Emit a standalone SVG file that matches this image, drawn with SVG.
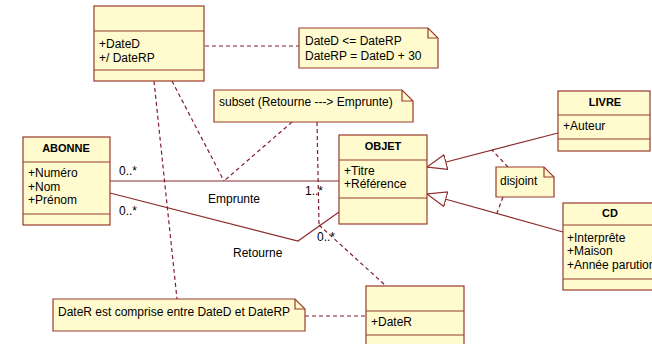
<svg xmlns="http://www.w3.org/2000/svg" width="652" height="344" viewBox="0 0 652 344">
<style>
.box{fill:#FFFBCE;stroke:#993B2E;stroke-width:1.2}
.sep{stroke:#993B2E;stroke-width:1.2;fill:none}
.note{fill:#FFFBCE;stroke:#993B2E;stroke-width:1.2}
.assoc{stroke:#8C2B2B;stroke-width:1.2;fill:none}
.dash{stroke:#7F1F2F;stroke-width:1.2;fill:none;stroke-dasharray:4,3}
text{font-family:"Liberation Sans",Arial,sans-serif;font-size:12px;fill:#000}
.hd{font-weight:bold;font-size:11px;text-anchor:middle}
</style>
<defs>
<marker id="gen" markerUnits="userSpaceOnUse" markerWidth="22" markerHeight="18" refX="20" refY="8" orient="auto">
<path d="M0.5,0.5 L20,8 L0.5,15.5 Z" fill="#ffffff" stroke="#8C2B2B" stroke-width="1.2"/>
</marker>
</defs>
<rect width="652" height="344" fill="#ffffff"/>
<g id="connectors">
<line class="assoc" x1="110" y1="181" x2="339" y2="181"/>
<polyline class="assoc" points="110,193 298,241 339,212"/>
<line class="assoc" x1="558" y1="133" x2="427" y2="167" marker-end="url(#gen)"/>
<line class="assoc" x1="563" y1="232" x2="427" y2="194" marker-end="url(#gen)"/>
<line class="dash" x1="205" y1="46" x2="299" y2="46"/>
<line class="dash" x1="154" y1="81" x2="177" y2="299"/>
<line class="dash" x1="172" y1="81" x2="224" y2="181"/>
<line class="dash" x1="292" y1="122" x2="224" y2="181"/>
<line class="dash" x1="317" y1="122" x2="319" y2="225"/>
<line class="dash" x1="319" y1="225" x2="386" y2="286"/>
<line class="dash" x1="305" y1="316" x2="366" y2="316"/>
<line class="dash" x1="508" y1="167" x2="492" y2="150"/>
<line class="dash" x1="503" y1="197" x2="497" y2="213"/>
<text x="119" y="175">0..*</text>
<text x="119" y="215">0..*</text>
<text x="305" y="195">1..*</text>
<text x="317" y="241">0..*</text>
<text x="208" y="203">Emprunte</text>
<text x="233" y="257">Retourne</text>
</g>
<g id="emprunte-class">
<rect class="box" x="94" y="6" width="110" height="75"/>
<line class="sep" x1="94" y1="31" x2="204" y2="31"/>
<line class="sep" x1="94" y1="70" x2="204" y2="70"/>
<text x="99" y="48">+DateD</text>
<text x="99" y="62">+/ DateRP</text>
</g>
<g id="note-dates">
<path class="note" d="M299,28 H428 L438,38 V68 H299 Z"/>
<path class="sep" d="M428,28 V38 H438"/>
<text x="305" y="45">DateD &lt;= DateRP</text>
<text x="305" y="60">DateRP = DateD + 30</text>
</g>
<g id="note-subset">
<path class="note" d="M214,90 H402 L413,101 V122 H214 Z"/>
<path class="sep" d="M402,90 V101 H413"/>
<text x="219" y="106">subset (Retourne ---&gt; Emprunte)</text>
</g>
<g id="abonne">
<rect class="box" x="23" y="137" width="87" height="88"/>
<line class="sep" x1="23" y1="162" x2="110" y2="162"/>
<line class="sep" x1="23" y1="214" x2="110" y2="214"/>
<text class="hd" x="66" y="152">ABONNE</text>
<text x="28" y="177">+Numéro</text>
<text x="28" y="191">+Nom</text>
<text x="28" y="204">+Prénom</text>
</g>
<g id="objet">
<rect class="box" x="339" y="135" width="88" height="89"/>
<line class="sep" x1="339" y1="160" x2="427" y2="160"/>
<line class="sep" x1="339" y1="198" x2="427" y2="198"/>
<text class="hd" x="383" y="150">OBJET</text>
<text x="344" y="175">+Titre</text>
<text x="344" y="188">+Référence</text>
</g>
<g id="livre">
<rect class="box" x="558" y="91" width="92" height="60"/>
<line class="sep" x1="558" y1="115" x2="650" y2="115"/>
<line class="sep" x1="558" y1="139" x2="650" y2="139"/>
<text class="hd" x="605" y="106">LIVRE</text>
<text x="563" y="130">+Auteur</text>
</g>
<g id="cd">
<rect class="box" x="563" y="203" width="100" height="87"/>
<line class="sep" x1="563" y1="225" x2="663" y2="225"/>
<line class="sep" x1="563" y1="279" x2="663" y2="279"/>
<text class="hd" x="610" y="217">CD</text>
<text x="567" y="242">+Interprête</text>
<text x="567" y="255">+Maison</text>
<text x="567" y="269">+Année parution</text>
</g>
<g id="note-disjoint">
<path class="note" d="M496,167 H544 L554,177 V197 H496 Z"/>
<path class="sep" d="M544,167 V177 H554"/>
<text x="500" y="185">disjoint</text>
</g>
<g id="retourne-class">
<rect class="box" x="366" y="286" width="98" height="70"/>
<line class="sep" x1="366" y1="311" x2="464" y2="311"/>
<line class="sep" x1="366" y1="335" x2="464" y2="335"/>
<text x="371" y="326">+DateR</text>
</g>
<g id="note-dater">
<path class="note" d="M53,299 H295 L305,309 V331 H53 Z"/>
<path class="sep" d="M295,299 V309 H305"/>
<text x="58" y="316">DateR est comprise entre DateD et DateRP</text>
</g>
</svg>
